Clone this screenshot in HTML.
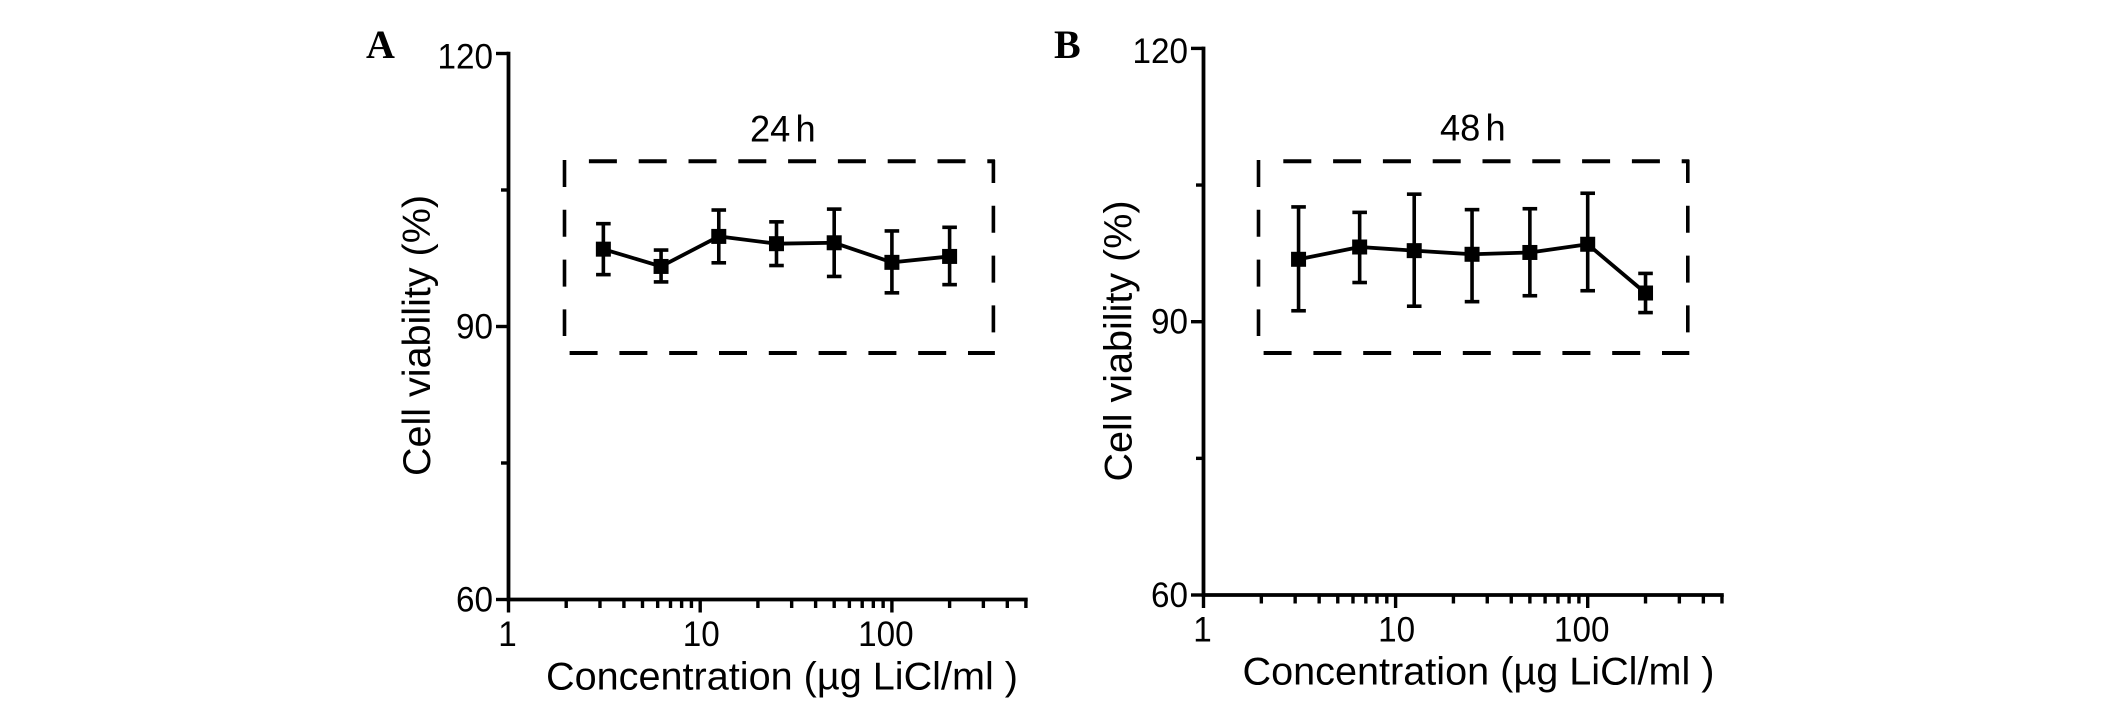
<!DOCTYPE html>
<html lang="en">
<head>
<meta charset="utf-8">
<title>Cell viability vs LiCl concentration</title>
<style>
html,body{margin:0;padding:0;background:#fff;}
svg{display:block;}
text{font-family:"Liberation Sans",sans-serif;fill:#000;}
.panel-letter{font-family:"Liberation Serif",serif;font-weight:bold;font-size:40px;}
</style>
</head>
<body>
<svg id="chart" xmlns="http://www.w3.org/2000/svg" width="2126" height="707" viewBox="0 0 2126 707">
  <rect x="0" y="0" width="2126" height="707" fill="#fff"/>
  <text class="panel-letter" x="366" y="58">A</text>
  <text class="panel-letter" x="1054" y="58">B</text>
  <g id="panelA"></g>
  <g id="panelB"></g>
</svg>
<script>
const concentrationsA = [3.125, 6.25, 12.5, 25, 50, 100, 200];
const viabilityA = [98.5, 96.6, 99.9, 99.1, 99.2, 97.05, 97.7];
const upperA = [101.3, 98.4, 102.8, 101.5, 102.9, 100.5, 100.9];
const lowerA = [95.7, 94.9, 97.0, 96.7, 95.5, 93.7, 94.6];

const concentrationsB = [3.125, 6.5, 12.5, 25, 50, 100, 200];
const viabilityB = [96.85, 98.2, 97.8, 97.4, 97.6, 98.5, 93.15];
const upperB = [102.6, 102.0, 104.0, 102.3, 102.4, 104.1, 95.3];
const lowerB = [91.2, 94.3, 91.7, 92.2, 92.85, 93.4, 91.0];

const yTickValues = [60, 75, 90, 105, 120];
const yTickLabels = ["60", "", "90", "", "120"];
const xMajorTicks = [1, 10, 100];
const xMinorTicks = [2, 3, 4, 5, 6, 7, 8, 9, 20, 30, 40, 50, 60, 70, 80, 90, 200, 300, 400, 500];
const xMajorLabels = ["1", "10", "100"];

const NS = "http://www.w3.org/2000/svg";

function svgEl(parent, tag, attrs) {
  const el = document.createElementNS(NS, tag);
  for (const k in attrs) el.setAttribute(k, attrs[k]);
  parent.appendChild(el);
  return el;
}

function drawLine(parent, name, x1, y1, x2, y2, width, extra) {
  const el = svgEl(parent, "line", Object.assign({ x1, y1, x2, y2, stroke: "#000", "stroke-width": width }, extra || {}));
  
  
  return el;
}

function drawText(parent, name, content, x, y, size, anchor, sx, extra) {
  const el = svgEl(parent, "text", Object.assign({
    x: 0, y: 0, "font-size": size, "text-anchor": anchor,
    transform: "translate(" + x + "," + y + ") scale(" + sx + ",1)"
  }, extra || {}));
  el.textContent = content;
  
  
  return el;
}

function drawPanel(cfg) {
  const g = document.getElementById(cfg.id);
  const xScale = v => cfg.x0 + Math.log10(v) * cfg.decade;
  const yScale = v => cfg.y60 - (v - 60) * cfg.unit;
  const xEnd = xScale(500);

  // dashed box
  const dash = { "stroke-dasharray": "28 21.8" };
  drawLine(g, "dashed-box-top", cfg.boxTopStart, cfg.boxTop, cfg.boxRight + 1.5, cfg.boxTop, 4, dash);
  drawLine(g, "dashed-box-bottom", cfg.boxBottomStart, cfg.boxBottom, cfg.boxRight + 1.5, cfg.boxBottom, 4, dash);
  const vdash = { "stroke-dasharray": "27 22.8" };
  drawLine(g, "dashed-box-left", cfg.boxLeft, 160, cfg.boxLeft, 336, 3.6, vdash);
  drawLine(g, "dashed-box-right", cfg.boxRight, 160, cfg.boxRight, 333, 3.6, { "stroke-dasharray": "27 22.8", "stroke-dashoffset": 4 });

  // axes
  drawLine(g, "y-axis", cfg.x0, yScale(120) - 1.8, cfg.x0, cfg.y60 + 1.8, 3.8);
  drawLine(g, "x-axis", cfg.x0 - 1.8, cfg.y60, xEnd + 1.8, cfg.y60, 3.8);

  yTickValues.forEach((v, i) => {
    const major = yTickLabels[i] !== "";
    drawLine(g, "y-tick-" + v, cfg.x0 - (major ? 12.5 : 7.5), yScale(v), cfg.x0, yScale(v), 3.4);
    if (major) {
      drawText(g, "y-tick-label-" + v, yTickLabels[i], cfg.x0 - 15.5, yScale(v) + (v === 120 ? 14.8 : 12), 35, "end", 0.95);
    }
  });

  xMajorTicks.forEach((v, i) => {
    drawLine(g, "x-tick-" + v, xScale(v), cfg.y60, xScale(v), cfg.y60 + 13, 3.4);
    drawText(g, "x-tick-label-" + v, xMajorLabels[i], xScale(v) + [-1, 1, -6][i], cfg.y60 + 46.5, 35, "middle", 0.95);
  });
  xMinorTicks.forEach(v => {
    drawLine(g, "x-minor-tick-" + v, xScale(v), cfg.y60, xScale(v), cfg.y60 + 8.5, 3.4);
  });

  // series
  const pts = cfg.values.map((v, i) => xScale(cfg.conc[i]) + "," + yScale(v)).join(" ");
  const series = svgEl(g, "polyline", { points: pts, fill: "none", stroke: "#000", "stroke-width": 3.8, "stroke-linejoin": "round" });
  
  

  cfg.values.forEach((v, i) => {
    const x = xScale(cfg.conc[i]);
    const c = cfg.conc[i];
    drawLine(g, "error-bar-" + c, x, yScale(cfg.upper[i]), x, yScale(cfg.lower[i]), 3.6);
    drawLine(g, "error-cap-upper-" + c, x - 7.3, yScale(cfg.upper[i]), x + 7.3, yScale(cfg.upper[i]), 3.6);
    drawLine(g, "error-cap-lower-" + c, x - 7.3, yScale(cfg.lower[i]), x + 7.3, yScale(cfg.lower[i]), 3.6);
    const m = svgEl(g, "rect", { x: x - 7.5, y: yScale(v) - 7.5, width: 15, height: 15, fill: "#000" });
    
    
  });

  // titles
  drawText(g, "time-label", cfg.title, cfg.titleX, cfg.titleY, 37, "start", 0.98, { "word-spacing": "-5" });
  const xt = drawText(g, "x-axis-title", "Concentration (µg LiCl/ml )", cfg.xlabelX, cfg.xlabelY, 39, "start", 1, { textLength: 472, lengthAdjust: "spacingAndGlyphs" });
  const yt = drawText(g, "y-axis-title", "Cell viability (%)", cfg.ylabelX, cfg.ylabelY, 39, "start", 1, { textLength: 281, lengthAdjust: "spacingAndGlyphs" });
  yt.setAttribute("transform", "translate(" + cfg.ylabelX + "," + cfg.ylabelY + ") rotate(-90)");
}

drawPanel({
  id: "panelA", x0: 508.5, decade: 191.7, y60: 599.5, unit: 9.1,
  conc: concentrationsA, values: viabilityA, upper: upperA, lower: lowerA,
  boxLeft: 564.5, boxRight: 993.4, boxTop: 161.3, boxBottom: 353, boxTopStart: 588.9, boxBottomStart: 569.6,
  title: "24 h", titleX: 750, titleY: 141.5,
  xlabelX: 546, xlabelY: 689.5, ylabelX: 430, ylabelY: 476
});

drawPanel({
  id: "panelB", x0: 1203.5, decade: 192.1, y60: 595, unit: 9.11,
  conc: concentrationsB, values: viabilityB, upper: upperB, lower: lowerB,
  boxLeft: 1258.5, boxRight: 1687.8, boxTop: 161.3, boxBottom: 353, boxTopStart: 1283.3, boxBottomStart: 1263.6,
  title: "48 h", titleX: 1440, titleY: 140.5,
  xlabelX: 1242.5, xlabelY: 684.5, ylabelX: 1131.5, ylabelY: 481.5
});
</script>
</body>
</html>
